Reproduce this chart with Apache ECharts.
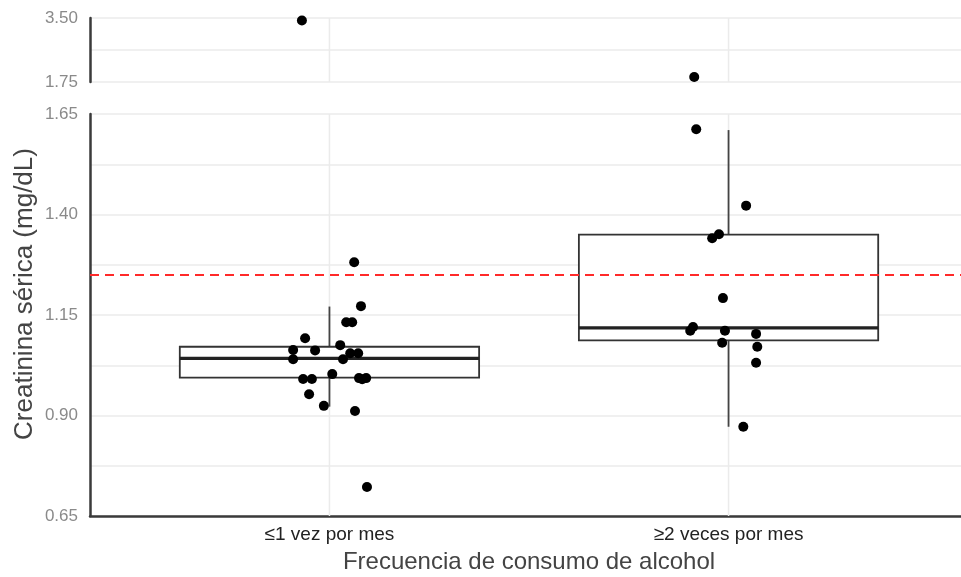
<!DOCTYPE html>
<html>
<head>
<meta charset="utf-8">
<script src="https://cdn.jsdelivr.net/npm/echarts@6/dist/echarts.min.js"></script>
<style>
  html, body { margin: 0; padding: 0; background: #fff; }
  #chart { width: 961px; height: 577px; }
</style>
</head>
<body>
<div id="chart"></div>
<script>
// Serum creatinine by alcohol consumption frequency (broken y axis)
const categories = ['≤1 vez por mes', '≥2 veces por mes'];

// individual measurements (mg/dL) and their horizontal jitter around each group
const group1Values = [3.43, 1.281, 1.172, 1.132, 1.132, 1.092, 1.075, 1.063, 1.062, 1.055, 1.055,
  1.040, 1.040, 1.003, 0.991, 0.991, 0.993, 0.993, 0.990, 0.953, 0.924, 0.911, 0.722];
const group1Jitter = [-0.069, 0.062, 0.079, 0.042, 0.057, -0.061, 0.027, -0.091, -0.036, 0.052, 0.072,
  -0.091, 0.034, 0.007, -0.066, -0.044, 0.074, 0.092, 0.082, -0.051, -0.014, 0.064, 0.094];
const group2Values = [1.888, 1.612, 1.422, 1.351, 1.341, 1.192, 1.120, 1.111, 1.111, 1.103, 1.081,
  1.071, 1.031, 0.872];
const group2Jitter = [-0.086, -0.081, 0.044, -0.024, -0.041, -0.014, -0.089, -0.096, -0.009, 0.069, -0.016,
  0.072, 0.069, 0.037];

// box summaries: [lower whisker, Q1, median, Q3, upper whisker]
const boxStats = [
  [0.922, 0.994, 1.042, 1.071, 1.171],
  [0.872, 1.087, 1.118, 1.350, 1.610]
];

const referenceLevel = 1.25;

// axis segments of the broken y axis
const lowerAxis = { min: 0.65, max: 1.65, interval: 0.25 };
const upperAxis = { min: 1.75, max: 3.50, interval: 1.75 };

const axisFont = '"Liberation Sans", Arial, sans-serif';
const gridColor = '#ebebeb';

const allPoints = [];
group1Values.forEach((v, i) => allPoints.push([1 + group1Jitter[i], v]));
group2Values.forEach((v, i) => allPoints.push([2 + group2Jitter[i], v]));
const lowerPoints = allPoints.filter(p => p[1] <= lowerAxis.max);
const upperPoints = allPoints.filter(p => p[1] >= upperAxis.min);

const boxData = boxStats.map((s, i) => [i + 1].concat(s));
const boxHalfWidth = 0.375;

function renderBox(params, api) {
  const x = api.value(0);
  const lo = api.value(1), q1 = api.value(2), med = api.value(3), q3 = api.value(4), hi = api.value(5);
  const pLo = api.coord([x, lo]);
  const pHi = api.coord([x, hi]);
  const left = api.coord([x - boxHalfWidth, q3]);
  const right = api.coord([x + boxHalfWidth, q1]);
  const mL = api.coord([x - boxHalfWidth, med]);
  const mR = api.coord([x + boxHalfWidth, med]);
  const stroke = '#333';
  return {
    type: 'group',
    children: [
      { type: 'line', shape: { x1: pHi[0], y1: pHi[1], x2: pHi[0], y2: left[1] },
        style: { stroke: '#444', lineWidth: 1.8 } },
      { type: 'line', shape: { x1: pLo[0], y1: right[1], x2: pLo[0], y2: pLo[1] },
        style: { stroke: '#444', lineWidth: 1.8 } },
      { type: 'rect', shape: { x: left[0], y: left[1], width: right[0] - left[0], height: right[1] - left[1] },
        style: { fill: '#fff', stroke: stroke, lineWidth: 1.8 } },
      { type: 'line', shape: { x1: mL[0], y1: mL[1], x2: mR[0], y2: mR[1] },
        style: { stroke: '#222', lineWidth: 3.2 } }
    ]
  };
}

// vertical grid line at each category position, spanning the panel height
function renderVGrid(params, api) {
  const cs = params.coordSys;
  const p = api.coord([api.value(0), 0]);
  return {
    type: 'line',
    shape: { x1: p[0], y1: cs.y, x2: p[0], y2: cs.y + cs.height },
    style: { stroke: gridColor, lineWidth: 1.5 }
  };
}

function xAxisFor(gridIndex, withLabels) {
  return {
    type: 'value', gridIndex: gridIndex, min: 0.4, max: 2.6,
    axisLine: { show: withLabels, onZero: false, lineStyle: { color: '#3a3a3a', width: 2.5 } },
    axisTick: { show: false },
    splitLine: { show: false },
    axisLabel: withLabels ? {
      show: true, customValues: [1, 2], margin: 9,
      formatter: v => categories[Math.round(v) - 1] || '',
      color: '#222', fontSize: 19, fontFamily: axisFont
    } : { show: false },
    name: withLabels ? 'Frecuencia de consumo de alcohol' : '',
    nameLocation: 'middle', nameGap: 34,
    nameTextStyle: { color: '#444', fontSize: 24, fontFamily: axisFont }
  };
}

function yAxisFor(gridIndex, cfg) {
  return {
    type: 'value', gridIndex: gridIndex, min: cfg.min, max: cfg.max, interval: cfg.interval,
    axisLine: { show: true, lineStyle: { color: '#3a3a3a', width: 2.5 } },
    axisTick: { show: false },
    axisLabel: { color: '#8a8a8a', fontSize: 17, fontFamily: axisFont, margin: 12,
      formatter: v => v.toFixed(2) },
    splitLine: { show: true, lineStyle: { color: gridColor, width: 1.5 } },
    minorTick: { show: false, splitNumber: 2 },
    minorSplitLine: { show: true, lineStyle: { color: gridColor, width: 1.5 } }
  };
}

const chart = echarts.init(document.getElementById('chart'));
chart.setOption({
  animation: false,
  backgroundColor: '#fff',
  grid: [
    { left: 90, width: 878, top: 18, height: 64, outerBoundsMode: 'none', containLabel: false },
    { left: 90, width: 878, top: 114, height: 402, outerBoundsMode: 'none', containLabel: false }
  ],
  xAxis: [xAxisFor(0, false), xAxisFor(1, true)],
  yAxis: [yAxisFor(0, upperAxis), yAxisFor(1, lowerAxis)],
  graphic: [{
    type: 'text',
    rotation: Math.PI / 2,
    x: 25, y: 294,
    style: { text: 'Creatinina sérica (mg/dL)', fill: '#444', fontSize: 26, fontFamily: axisFont,
      align: 'center', verticalAlign: 'middle' }
  }],
  series: [
    { type: 'custom', xAxisIndex: 0, yAxisIndex: 0, z: 1, silent: true,
      renderItem: renderVGrid, data: [[1], [2]] },
    { type: 'custom', xAxisIndex: 1, yAxisIndex: 1, z: 1, silent: true,
      renderItem: renderVGrid, data: [[1], [2]] },
    {
      type: 'custom', xAxisIndex: 1, yAxisIndex: 1, z: 3,
      renderItem: renderBox, data: boxData, clip: false
    },
    {
      type: 'scatter', xAxisIndex: 1, yAxisIndex: 1, data: [], z: 4, silent: true,
      markLine: {
        silent: true, symbol: ['none', 'none'], label: { show: false },
        lineStyle: { color: '#ff2a2a', width: 2, type: [9, 6] },
        data: [{ yAxis: referenceLevel }]
      }
    },
    {
      type: 'scatter', xAxisIndex: 1, yAxisIndex: 1, z: 5,
      data: lowerPoints, symbolSize: 10, itemStyle: { color: '#000', opacity: 1 }
    },
    {
      type: 'scatter', xAxisIndex: 0, yAxisIndex: 0, z: 5,
      data: upperPoints, symbolSize: 10, itemStyle: { color: '#000', opacity: 1 }
    }
  ]
});
</script>
</body>
</html>
